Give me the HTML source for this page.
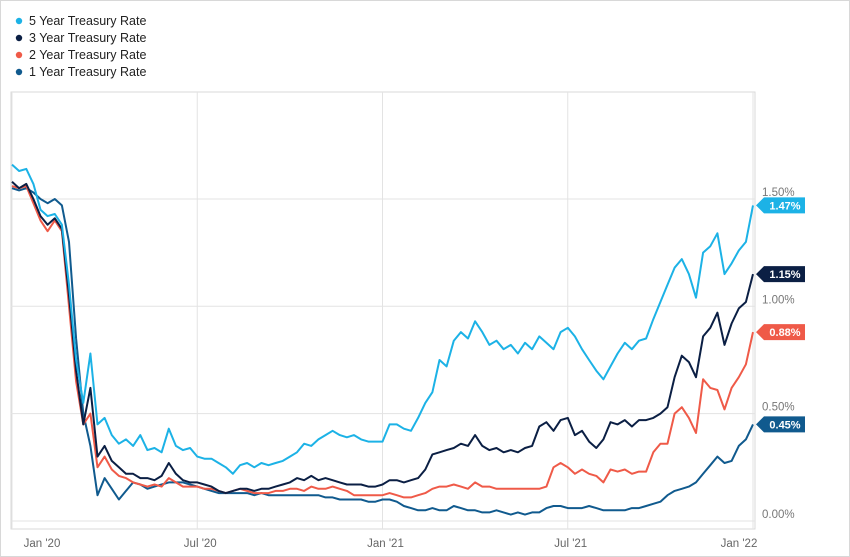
<!DOCTYPE html>
<html><head><meta charset="utf-8"><style>
html,body{margin:0;padding:0;background:#fff;}
body{width:850px;height:557px;overflow:hidden;font-family:"Liberation Sans",sans-serif;}
#wrap{position:absolute;left:0;top:0;width:848px;height:555px;border:1px solid #d8d8d8;}
</style></head><body>
<div id="wrap">
<svg id="chart" width="850" height="557" style="position:absolute;left:-1px;top:-1px"></svg>
</div>
<script>
const seriesNames = ["5 Year Treasury Rate","3 Year Treasury Rate","2 Year Treasury Rate","1 Year Treasury Rate"];
const seriesColors = ["#1cb2e6","#0b1f44","#ef5a48","#105a8e"];
const yTicks = [0,0.5,1.0,1.5];
const yTickLabels = ["0.00%","0.50%","1.00%","1.50%"];
const xTickWeeks = [0,26,52,78,104];
const xTickLabels = ["Jan '20","Jul '20","Jan '21","Jul '21","Jan '22"];
const fiveYear = [1.66,1.63,1.64,1.57,1.45,1.42,1.43,1.38,1.10,0.75,0.55,0.78,0.45,0.48,0.40,0.36,0.38,0.35,0.40,0.33,0.34,0.32,0.43,0.35,0.33,0.34,0.30,0.29,0.29,0.27,0.25,0.22,0.26,0.27,0.25,0.27,0.26,0.27,0.28,0.30,0.32,0.36,0.35,0.38,0.40,0.42,0.40,0.39,0.40,0.38,0.37,0.37,0.37,0.45,0.45,0.43,0.42,0.48,0.55,0.60,0.75,0.72,0.84,0.88,0.85,0.93,0.88,0.82,0.84,0.80,0.82,0.78,0.83,0.80,0.86,0.83,0.80,0.88,0.90,0.86,0.80,0.75,0.70,0.66,0.72,0.78,0.83,0.80,0.84,0.85,0.94,1.02,1.10,1.18,1.22,1.15,1.04,1.25,1.28,1.34,1.15,1.20,1.26,1.30,1.47];
const threeYear = [1.58,1.55,1.57,1.50,1.42,1.38,1.41,1.36,1.05,0.70,0.45,0.62,0.30,0.35,0.28,0.25,0.22,0.22,0.20,0.20,0.19,0.21,0.27,0.22,0.19,0.18,0.18,0.17,0.16,0.14,0.13,0.14,0.15,0.15,0.14,0.15,0.15,0.16,0.17,0.18,0.20,0.19,0.21,0.19,0.20,0.19,0.18,0.17,0.17,0.17,0.16,0.16,0.17,0.19,0.19,0.18,0.19,0.20,0.24,0.31,0.32,0.33,0.34,0.36,0.35,0.40,0.35,0.33,0.34,0.32,0.33,0.32,0.34,0.35,0.44,0.46,0.42,0.47,0.48,0.40,0.42,0.37,0.34,0.38,0.46,0.45,0.47,0.44,0.47,0.47,0.48,0.50,0.53,0.67,0.77,0.74,0.67,0.86,0.90,0.97,0.82,0.92,0.99,1.02,1.15];
const twoYear = [1.56,1.55,1.56,1.48,1.40,1.35,1.40,1.35,1.00,0.65,0.45,0.50,0.25,0.30,0.24,0.21,0.20,0.18,0.17,0.16,0.17,0.16,0.20,0.18,0.16,0.16,0.16,0.15,0.15,0.14,0.13,0.14,0.15,0.14,0.13,0.13,0.13,0.14,0.14,0.15,0.15,0.14,0.16,0.15,0.15,0.16,0.15,0.14,0.12,0.12,0.12,0.12,0.12,0.13,0.12,0.11,0.11,0.12,0.13,0.15,0.16,0.16,0.17,0.16,0.15,0.18,0.16,0.16,0.15,0.15,0.15,0.15,0.15,0.15,0.15,0.16,0.25,0.27,0.25,0.22,0.24,0.22,0.21,0.18,0.24,0.23,0.24,0.22,0.23,0.23,0.32,0.36,0.36,0.50,0.53,0.48,0.41,0.66,0.62,0.61,0.52,0.62,0.67,0.73,0.88];
const oneYear = [1.55,1.54,1.55,1.53,1.50,1.48,1.50,1.47,1.30,0.85,0.50,0.35,0.12,0.20,0.15,0.10,0.14,0.18,0.17,0.15,0.16,0.17,0.18,0.18,0.18,0.17,0.16,0.15,0.14,0.13,0.13,0.13,0.13,0.13,0.12,0.13,0.12,0.12,0.12,0.12,0.12,0.12,0.12,0.12,0.11,0.11,0.10,0.10,0.10,0.10,0.09,0.09,0.10,0.10,0.09,0.07,0.06,0.05,0.05,0.06,0.05,0.05,0.07,0.06,0.05,0.05,0.04,0.04,0.05,0.04,0.03,0.04,0.03,0.04,0.04,0.06,0.07,0.07,0.06,0.06,0.06,0.07,0.06,0.05,0.05,0.05,0.05,0.06,0.06,0.07,0.08,0.09,0.12,0.14,0.15,0.16,0.18,0.22,0.26,0.30,0.27,0.28,0.35,0.38,0.45];
const allSeries = [fiveYear,threeYear,twoYear,oneYear];

const NS="http://www.w3.org/2000/svg";
const svg=document.getElementById('chart');
const PL=11, PR=755, PT=92, PB=529;
const X0=12, X1=753;
function xScale(w){return X0+(X1-X0)*w/104;}
function yScale(v){return 521-v*214.7;}
function mk(tag,attrs){const e=document.createElementNS(NS,tag);for(const k in attrs)e.setAttribute(k,attrs[k]);svg.appendChild(e);return e;}

const frame=mk('rect',{x:PL,y:PT,width:PR-PL,height:PB-PT,fill:'none',stroke:'#d9d9d9','stroke-width':1});



yTicks.forEach((t,i)=>{
  const g=mk('line',{x1:PL,x2:PR,y1:yScale(t),y2:yScale(t),stroke:'#e3e3e3','stroke-width':1});
  
  
  const tx=mk('text',{x:762,y:yScale(t)-3,'font-size':11.5,fill:'#777','font-family':'Liberation Sans, sans-serif'});
  tx.textContent=yTickLabels[i];
  
  
});
xTickWeeks.forEach((w,i)=>{
  const x=xScale(w);
  const g=mk('line',{x1:x,x2:x,y1:PT,y2:PB,stroke:'#e3e3e3','stroke-width':1});
  
  
  let cx = i===0 ? x+30 : (i===4 ? x-14 : x+3);
  const tx=mk('text',{x:cx,y:547,'font-size':11.5,fill:'#666','text-anchor':'middle','font-family':'Liberation Sans, sans-serif'});
  tx.textContent=xTickLabels[i];
  
  
});

[3,2,1,0].forEach(si=>{
  const d=allSeries[si].map((v,i)=>(i?'L':'M')+xScale(i).toFixed(1)+','+yScale(v).toFixed(1)).join(' ');
  const p=mk('path',{d:d,fill:'none',stroke:seriesColors[si],'stroke-width':2,'stroke-linejoin':'round'});
  
  
});

allSeries.forEach((s,si)=>{
  const v=s[s.length-1], y=yScale(v), x=756;
  const tag=mk('path',{d:`M${x},${y} L${x+8},${y-8} L${x+49},${y-8} L${x+49},${y+8} L${x+8},${y+8} Z`,fill:seriesColors[si]});
  
  
  const t=mk('text',{x:x+29,y:y+4,'font-size':11,'font-weight':'bold',fill:'#fff','text-anchor':'middle','font-family':'Liberation Sans, sans-serif'});
  t.textContent=v.toFixed(2)+'%';
  
  
});

seriesNames.forEach((n,i)=>{
  const y=22+i*17;
  const c=mk('circle',{cx:19,cy:y-1,r:3.2,fill:seriesColors[i]});
  
  
  const t=mk('text',{x:29,y:y+3,'font-size':12.5,fill:'#222','font-family':'Liberation Sans, sans-serif'});
  t.textContent=n;
  
  
});
</script>
</body></html>
